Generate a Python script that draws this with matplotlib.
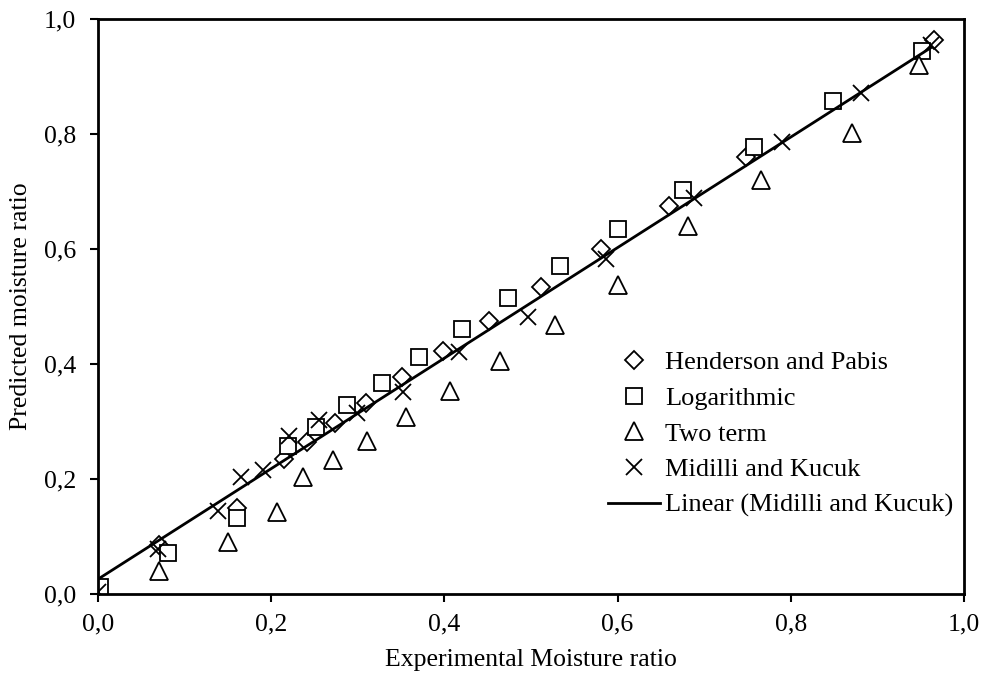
import numpy as np
import matplotlib
matplotlib.use("Agg")
import matplotlib.pyplot as plt
from matplotlib.ticker import FuncFormatter

plt.rcParams['font.family'] = ['Liberation Serif', 'DejaVu Serif']

# Experimental vs predicted moisture ratio for each thin-layer model
hp_x = [0.07, 0.16, 0.215, 0.241, 0.274, 0.31, 0.351, 0.398, 0.452, 0.512,
        0.581, 0.659, 0.748, 0.965]
hp_y = [0.085, 0.15, 0.235, 0.264, 0.297, 0.332, 0.377, 0.423, 0.475, 0.534,
        0.60, 0.675, 0.76, 0.963]

log_x = [0.002, 0.081, 0.16, 0.219, 0.252, 0.288, 0.328, 0.371, 0.42, 0.474,
         0.534, 0.601, 0.675, 0.757, 0.849, 0.952]
log_y = [0.013, 0.072, 0.132, 0.257, 0.29, 0.328, 0.367, 0.412, 0.461, 0.515,
         0.57, 0.635, 0.703, 0.777, 0.857, 0.944]

tt_x = [0.07, 0.15, 0.207, 0.237, 0.271, 0.311, 0.356, 0.406, 0.464, 0.528,
        0.601, 0.681, 0.766, 0.871, 0.948]
tt_y = [0.04, 0.09, 0.142, 0.203, 0.233, 0.266, 0.308, 0.353, 0.405, 0.468,
        0.537, 0.64, 0.72, 0.802, 0.92]

mk_x = [0.0, 0.069, 0.139, 0.165, 0.19, 0.22, 0.255, 0.299, 0.352, 0.417,
        0.497, 0.587, 0.688, 0.79, 0.881, 0.962]
mk_y = [0.003, 0.078, 0.144, 0.204, 0.215, 0.275, 0.302, 0.314, 0.351, 0.421,
        0.482, 0.582, 0.689, 0.786, 0.871, 0.955]

ticks = [0.0, 0.2, 0.4, 0.6, 0.8, 1.0]

fig = plt.figure(figsize=(9.85, 6.82), dpi=100)
ax = fig.add_axes([0.0995, 0.129, 0.8792, 0.843])

mstyle = dict(linestyle='none', markerfacecolor='white', markeredgecolor='black',
              markeredgewidth=1.3)
ax.plot(hp_x, hp_y, marker='D', markersize=9, label='Henderson and Pabis', **mstyle)
ax.plot(log_x, log_y, marker='s', markersize=12, label='Logarithmic', **mstyle)
ax.plot(tt_x, tt_y, marker='^', markersize=12.5, label='Two term', **mstyle)
ax.plot(mk_x, mk_y, marker='x', markersize=12, label='Midilli and Kucuk', **mstyle)

# Least-squares trendline through the Midilli and Kucuk points
slope, intercept = np.polyfit(mk_x, mk_y, 1)
lx = np.array([min(mk_x), max(mk_x)])
ax.plot(lx, slope * lx + intercept, color='black', linewidth=2,
        label='Linear (Midilli and Kucuk)')

ax.set_xlim(0, 1)
ax.set_ylim(0, 1)
ax.set_xticks(ticks)
ax.set_yticks(ticks)
fmt = FuncFormatter(lambda v, p: f"{v:.1f}".replace('.', ','))
ax.xaxis.set_major_formatter(fmt)
ax.yaxis.set_major_formatter(fmt)
ax.tick_params(direction='out', length=6, width=1.5, labelsize=18.5)
ax.tick_params(axis='x', pad=8)
ax.tick_params(axis='y', pad=10)

for s in ax.spines.values():
    s.set_linewidth(2)

ax.set_xlabel('Experimental Moisture ratio', fontsize=18.5, labelpad=10)
ax.set_ylabel('Predicted moisture ratio', fontsize=18.5, labelpad=8)

leg = ax.legend(loc='lower right', bbox_to_anchor=(1.0, 0.115), frameon=False,
                fontsize=19, handlelength=1.95, handletextpad=0.2,
                labelspacing=0.46, borderaxespad=0)

fig.savefig('out.png', dpi=100)
